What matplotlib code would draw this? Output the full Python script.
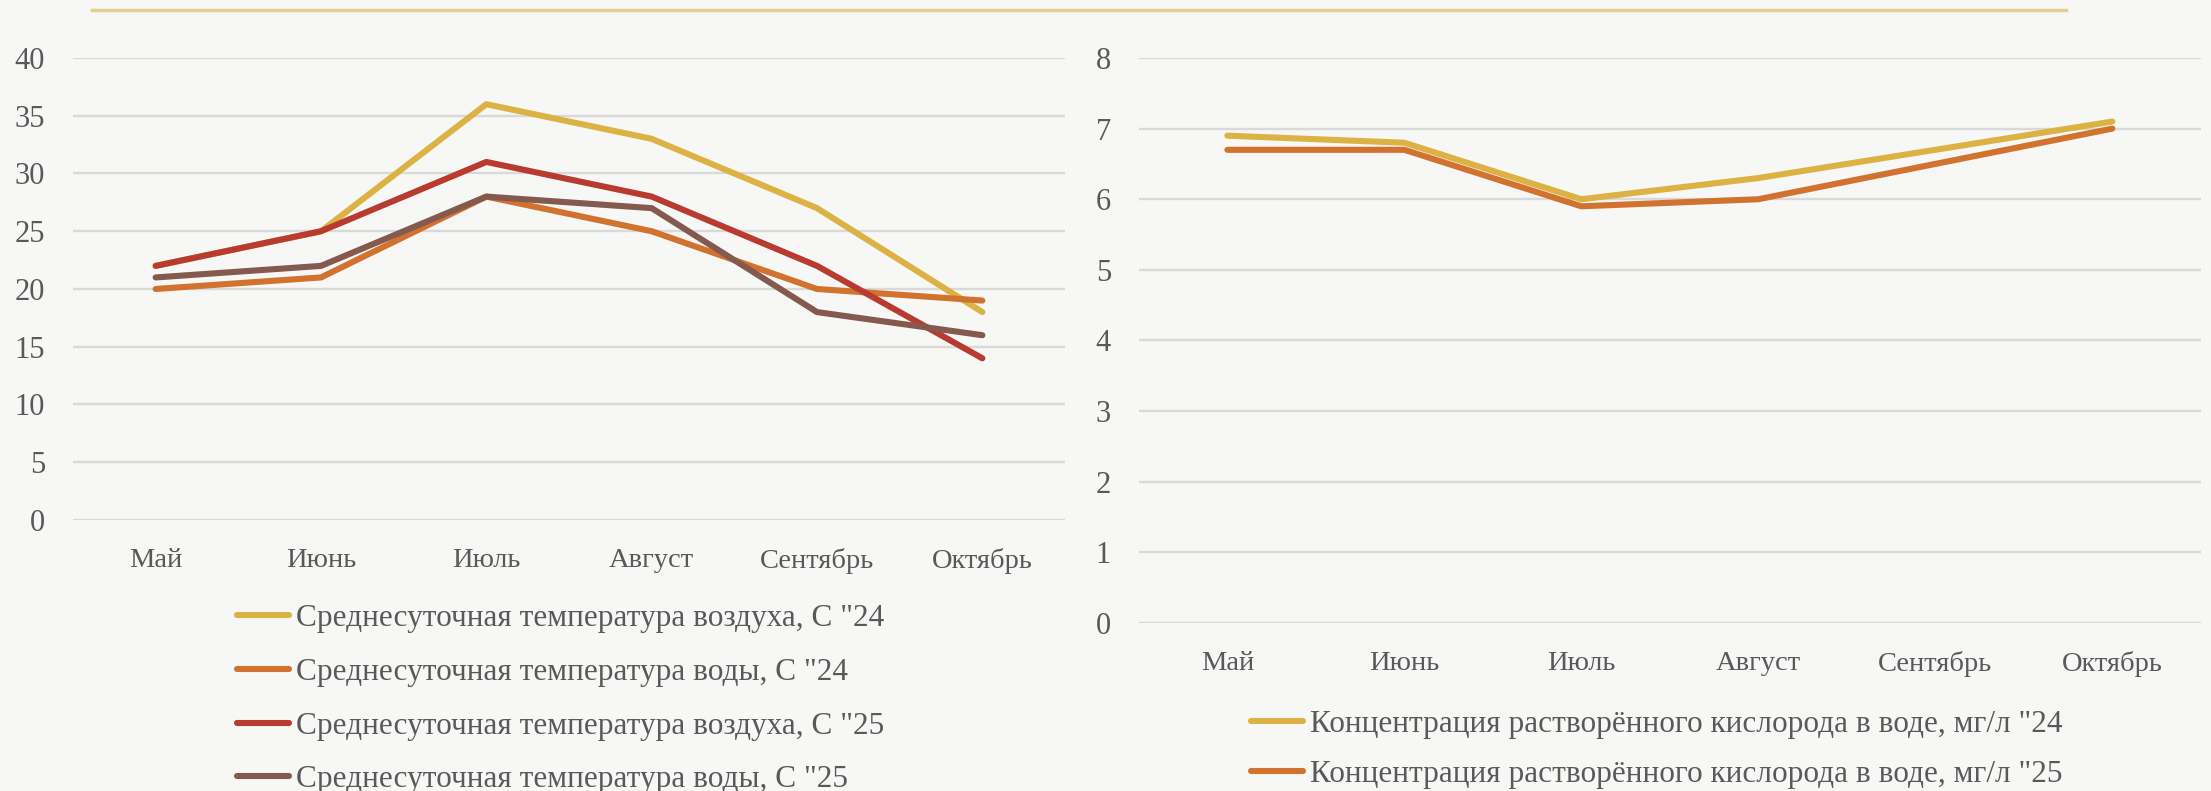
import matplotlib.pyplot as plt
from matplotlib.lines import Line2D

plt.rcParams['font.family'] = ['Liberation Serif', 'DejaVu Serif']

# --- data
months = ['Май', 'Июнь', 'Июль', 'Август', 'Сентябрь', 'Октябрь']

air_24 = [22, 25, 36, 33, 27, 18]
water_24 = [20, 21, 28, 25, 20, 19]
air_25 = [22, 25, 31, 28, 22, 14]
water_25 = [21, 22, 28, 27, 18, 16]

oxygen_24 = [6.9, 6.8, 6.0, 6.3, 6.7, 7.1]
oxygen_25 = [6.7, 6.7, 5.9, 6.0, 6.5, 7.0]

temp_labels = ['Среднесуточная температура воздуха, С "24',
               'Среднесуточная температура воды, С "24',
               'Среднесуточная температура воздуха, С "25',
               'Среднесуточная температура воды, С "25']
oxy_labels = ['Концентрация растворённого кислорода в воде, мг/л "24',
              'Концентрация растворённого кислорода в воде, мг/л "25']

# --- styles
c_yellow = '#DDB244'
c_orange = '#D2722F'
c_red = '#B93B30'
c_brown = '#85594E'
txt = '#595959'
grid_c = '#D9D9D9'
fs_x = 20.5
fs_y = 22
fs_leg = 22.5

fig = plt.figure(figsize=(22.11, 7.91), dpi=100, facecolor='#F7F7F6')

ax1 = fig.add_axes([0.033, 0.3426, 0.4487, 0.5841])
ax2 = fig.add_axes([0.5151, 0.2124, 0.4803, 0.7143])

x = range(len(months))
lw = 4.4
for ys, col, lab in zip([air_24, water_24, air_25, water_25],
                        [c_yellow, c_orange, c_red, c_brown], temp_labels):
    ax1.plot(x, ys, color=col, lw=lw, label=lab, solid_capstyle='round', solid_joinstyle='round')

for ys, col, lab in zip([oxygen_24, oxygen_25], [c_yellow, c_orange], oxy_labels):
    ax2.plot(x, ys, color=col, lw=lw, label=lab, solid_capstyle='round', solid_joinstyle='round')

ax1.set_ylim(0, 40)
ax1.set_yticks(range(0, 41, 5))
ax2.set_ylim(0, 8)
ax2.set_yticks(range(0, 9))

for ax in (ax1, ax2):
    ax.set_facecolor('none')
    ax.set_xlim(-0.5, len(months) - 0.5)
    ax.set_xticks(list(x))
    ax.set_xticklabels(months)
    for s in ax.spines.values():
        s.set_visible(False)
    ax.yaxis.grid(True, color=grid_c, lw=1.7)
    ax.set_axisbelow(True)
    ax.tick_params(length=0, colors=txt)
    ax.tick_params(axis='x', labelsize=fs_x, pad=20)
    ax.tick_params(axis='y', labelsize=fs_y, pad=20)

leg1 = ax1.legend(loc='upper left', bbox_to_anchor=(0.1072, 0.236), bbox_transform=fig.transFigure,
                  frameon=False, fontsize=fs_leg, handlelength=1.66, handletextpad=0.22,
                  labelspacing=0.79, borderpad=0, borderaxespad=0)
leg2 = ax2.legend(loc='upper left', bbox_to_anchor=(0.5658, 0.102), bbox_transform=fig.transFigure,
                  frameon=False, fontsize=fs_leg, handlelength=1.66, handletextpad=0.22,
                  labelspacing=0.66, borderpad=0, borderaxespad=0)
for leg in (leg1, leg2):
    for t in leg.get_texts():
        t.set_color(txt)

# thin gold rule at the top
fig.add_artist(Line2D([0.0416, 0.9344], [0.987, 0.987], transform=fig.transFigure,
                      color='#E8CE8E', lw=2.5))

fig.savefig('out.png', dpi=100, facecolor=fig.get_facecolor())
